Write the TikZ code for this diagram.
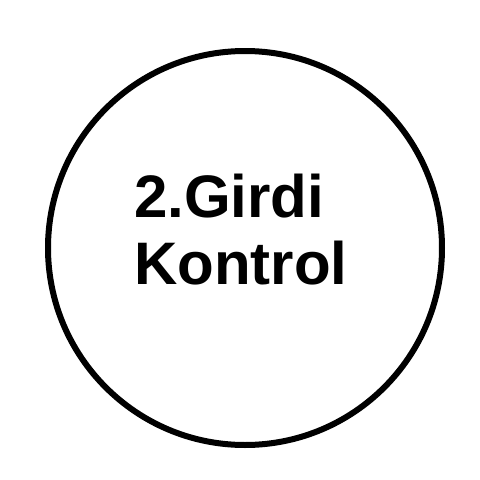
\documentclass[tikz,border=0pt]{standalone}
\usepackage{fontspec}
\setmainfont{Liberation Sans}
\begin{document}
\begin{tikzpicture}[x=1pt,y=-1pt,
  ring/.style={draw=black,line width=6pt},
  lbl/.style={font=\fontsize{60}{67}\selectfont\bfseries,inner sep=0pt,anchor=base west}]
\useasboundingbox (0,0) rectangle (480,480);
\node[ring,circle,minimum size=394pt,inner sep=0pt] (c) at (245,248) {};
\node[lbl] (t1) at (134,217) {2.Girdi};
\node[lbl] (t2) at (134,284) {Kontrol};
\end{tikzpicture}
\end{document}
